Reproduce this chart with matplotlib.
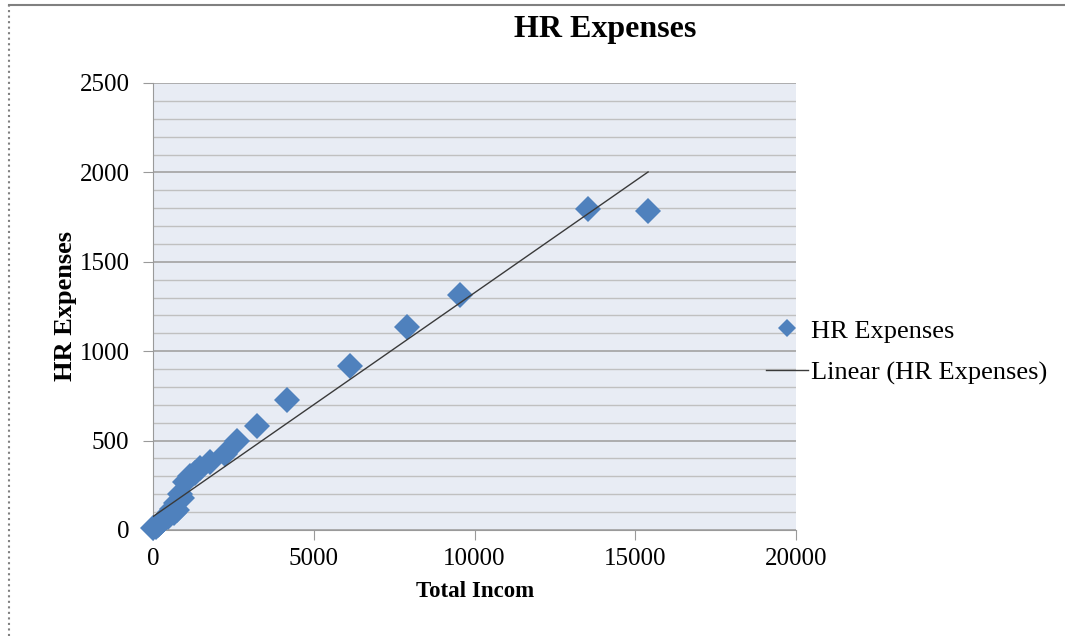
import numpy as np
import matplotlib.pyplot as plt
from matplotlib.lines import Line2D
from matplotlib.ticker import MultipleLocator

# values (the cluster near the origin holds many overlapping points)
total_income = [0, 80, 150, 200, 250, 300, 350, 400, 450, 500, 530, 600, 650,
                700, 750, 840, 900, 1000, 1150, 1300, 1460, 1770,
                2240, 2620, 3245, 4158, 6128, 7888, 9549, 13530, 15397]
hr_expenses = [10, 15, 30, 35, 45, 55, 60, 70, 75, 85, 100, 120, 95,
               150, 110, 200, 180, 270, 300, 320, 345, 380,
               425, 500, 583, 727, 917, 1137, 1314, 1795, 1784]

x_ticks = [0, 5000, 10000, 15000, 20000]
y_ticks = [0, 500, 1000, 1500, 2000, 2500]

plt.rcParams['font.family'] = ['Liberation Serif', 'DejaVu Serif']

fig = plt.figure(figsize=(10.65, 6.36), dpi=100)
ax = fig.add_axes([0.1437, 0.1667, 0.6038, 0.7028])
ax.set_facecolor('#E8ECF4')

x = np.array(total_income, dtype=float)
y = np.array(hr_expenses, dtype=float)
slope, intercept = np.polyfit(x, y, 1)
xs = np.array([0, x.max()])

ax.plot(x, y, 'D', color='#4F81BD', markersize=13, markeredgewidth=0,
        label='HR Expenses', zorder=3, clip_on=False)
ax.plot(xs, slope * xs + intercept, color='#3A3A3A', linewidth=1,
        label='Linear (HR Expenses)', zorder=4)

ax.set_xlim(0, 20000)
ax.set_ylim(0, 2500)
ax.set_xticks(x_ticks)
ax.set_yticks(y_ticks)
ax.yaxis.set_minor_locator(MultipleLocator(100))
ax.grid(axis='y', which='major', color='#A8A8A8', linewidth=1.3)
ax.grid(axis='y', which='minor', color='#C0C0C0', linewidth=1)
ax.set_axisbelow(True)
for s in ['top', 'right']:
    ax.spines[s].set_visible(False)
for s in ['left', 'bottom']:
    ax.spines[s].set_color('#9A9A9A')
ax.tick_params(axis='both', which='major', length=7, color='#9A9A9A',
               labelsize=18, pad=6)
ax.tick_params(axis='y', which='major', pad=10)
ax.tick_params(axis='both', which='minor', length=0)

ax.set_xlabel('Total Incom', fontsize=16.5, fontweight='bold', labelpad=8)
ax.set_ylabel('HR Expenses', fontsize=19, fontweight='bold', labelpad=2)
fig.text(605 / 1065, 1 - 29 / 636, 'HR Expenses', fontsize=23,
         fontweight='bold', ha='center', va='center')

ax.legend(loc='center left', bbox_to_anchor=(766 / 1065, 1 - 352 / 636),
          bbox_transform=fig.transFigure, frameon=False, fontsize=19,
          handlelength=1.6, handletextpad=0.1, labelspacing=0.7,
          borderaxespad=0, borderpad=0, markerscale=0.7)

# outer chart border
fig.add_artist(Line2D([9 / 1065, 1], [1 - 5 / 636, 1 - 5 / 636],
                      color='#808080', linewidth=1.5))
fig.add_artist(Line2D([9 / 1065, 9 / 1065], [0, 1 - 5 / 636],
                      color='#808080', linewidth=1.5, linestyle=':'))

fig.savefig('out.png', dpi=100)
